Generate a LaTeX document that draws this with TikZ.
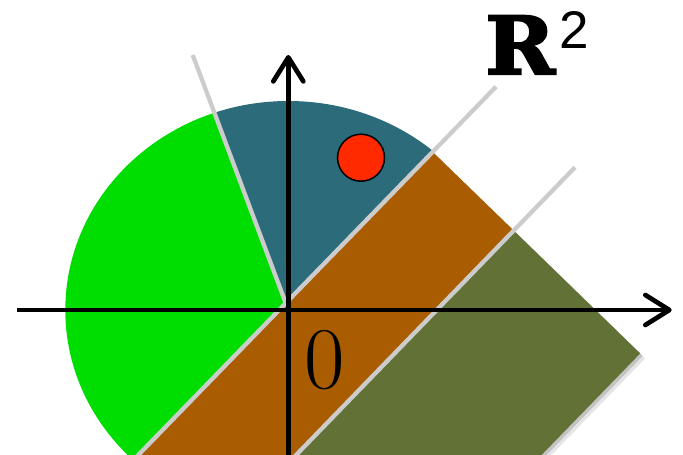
\documentclass[tikz,border=0pt]{standalone}
\usepackage{fontspec}
\newfontfamily\rfont{DejaVu Serif Bold}[FakeBold=2.5,FakeStretch=1.05]
\newfontfamily\sfont{Liberation Sans}
\usetikzlibrary{arrows.meta}
\definecolor{teal1}{HTML}{2B6B7A}
\definecolor{green1}{HTML}{00DD00}
\definecolor{orange1}{HTML}{A95C00}
\definecolor{olive1}{HTML}{627236}
\definecolor{gray1}{HTML}{CCCCCC}
\definecolor{red1}{HTML}{FF2A00}
\begin{document}
\begin{tikzpicture}[x=1pt,y=-1pt,
  axis/.style={line width=4.7pt, -{Straight Barb[length=24pt,width=30pt,round]}},
  guide/.style={gray1, line width=4.3pt},
  sector/.style={x radius=223pt, y radius=209pt}]
\useasboundingbox (0,0) rectangle (683,455);
\clip (0,0) rectangle (683,455);
% key points
\coordinate (O) at (288.3,310);
\coordinate (P) at (285.8,303.2);
\coordinate (L1top) at (192.7,55);
\coordinate (L2top) at (496,86.7);
\coordinate (L2bot) at (124.4,469.3);
\coordinate (L3top) at (575,167.3);
\coordinate (L3bot) at (205.7,548.3);
\coordinate (OT1) at (432.7,151.9);
\coordinate (OT2) at (514.0,230.8);
\coordinate (OT3) at (640.2,353.4);
\coordinate (OB3) at (331.9,670.9);
% teal sector
\begin{scope}
  \clip (P) -- (99.6,-193.2) -- (819.8,-246.7) -- cycle;
  \fill[teal1] (O) ellipse [sector];
\end{scope}
% green sector
\begin{scope}
  \clip (P) -- (99.6,-193.2) -- (-300,-193.2) -- (-300,853) -- (-248.2,853.1) -- cycle;
  \fill[green1] (O) ellipse [sector];
\end{scope}
% olive shadow
\fill[black, opacity=0.10] ([shift={(5,5)}]OT2) -- ([shift={(5,5)}]OT3) -- ([shift={(5,5)}]OB3) -- ([shift={(5,5)}]L3bot) -- cycle;
\fill[black, opacity=0.15] ([shift={(2.5,2.5)}]OT2) -- ([shift={(2.5,2.5)}]OT3) -- ([shift={(2.5,2.5)}]OB3) -- ([shift={(2.5,2.5)}]L3bot) -- cycle;
% bands
\fill[orange1] (OT1) -- (OT2) -- (L3bot) -- (L2bot) -- cycle;
\fill[olive1] (OT2) -- (OT3) -- (OB3) -- (L3bot) -- cycle;
% guide lines
\draw[guide] (L1top) -- (P);
\draw[guide] (L2bot) -- (L2top);
\draw[guide] (L3bot) -- (L3top);
% axes
\coordinate (xl) at (16.7,310);
\coordinate (xr) at (671.7,310);
\coordinate (yb) at (288.3,470);
\coordinate (yt) at (288.3,55);
\draw[axis] (xl) -- (xr);
\draw[axis] (yb) -- (yt);
% point
\node[circle, fill=red1, draw=black, line width=1.5pt, minimum size=47pt, inner sep=0pt] (dot) at (361,157.7) {};
% labels
\node[inner sep=0pt, font=\fontsize{88}{88}\selectfont] (zero) at (325,360) {0};
\node[anchor=base west, inner sep=0pt] (r2) at (485,74) {{\fontsize{80}{80}\selectfont\rfont R}\hspace{4pt}\raisebox{26pt}{\fontsize{53}{53}\selectfont\sfont 2}};
\end{tikzpicture}
\end{document}
